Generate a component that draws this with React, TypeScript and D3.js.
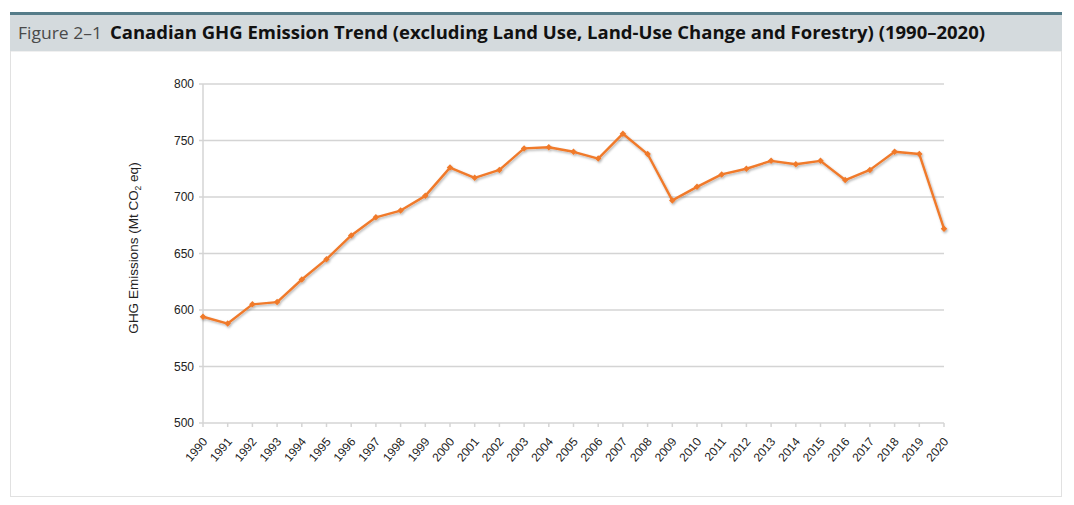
import React from "react";
import * as d3 from "d3";

const years: number[] = [
  1990, 1991, 1992, 1993, 1994, 1995, 1996, 1997, 1998, 1999, 2000, 2001, 2002, 2003, 2004, 2005,
  2006, 2007, 2008, 2009, 2010, 2011, 2012, 2013, 2014, 2015, 2016, 2017, 2018, 2019, 2020,
];
const emissions: number[] = [
  594, 588, 605, 607, 627, 645, 666, 682, 688, 701, 726, 717, 724, 743, 744, 740,
  734, 756, 738, 697, 709, 720, 725, 732, 729, 732, 715, 724, 740, 738, 672,
];
const yTicks: number[] = [500, 550, 600, 650, 700, 750, 800];

const W = 1074;
const H = 505;

export default function App() {
  const x = d3.scaleLinear().domain([1990, 2020]).range([203, 944]);
  const y = d3.scaleLinear().domain([500, 800]).range([423, 84]);
  const line = d3
    .line<number>()
    .x((_, i) => x(years[i]))
    .y((d) => y(d));
  const font = "'Liberation Sans', Arial, sans-serif";
  return (
    <svg
      width={W}
      height={H}
      style={{ position: "absolute", left: 0, top: 0, background: "#fff" }}
    >
      <defs>
        <filter id="sh" x="-50%" y="-50%" width="200%" height="200%">
          <feDropShadow dx="1" dy="1.5" stdDeviation="1" floodColor="#000" floodOpacity="0.3" />
        </filter>
      </defs>
      {/* frame */}
      <rect x={10.5} y={51} width={1051} height={445.5} fill="#fff" stroke="#e1e1e1" strokeWidth={1} />
      <rect x={10} y={14} width={1052} height={37} fill="#d4dadd" />
      <rect x={10} y={12} width={1052} height={3} fill="#557c89" />
      <text
        x={18}
        y={39}
        fontFamily="'Open Sans', 'Noto Sans', sans-serif"
        fontSize={17}
        fill="#4a4a4a"
        textLength={84}
        lengthAdjust="spacingAndGlyphs"
      >
        Figure 2–1
      </text>
      <text
        x={110}
        y={39}
        fontFamily="'Open Sans', 'Noto Sans', sans-serif"
        fontSize={17}
        fontWeight={700}
        fill="#111"
        textLength={875}
        lengthAdjust="spacingAndGlyphs"
      >
        Canadian GHG Emission Trend (excluding Land Use, Land-Use Change and Forestry) (1990–2020)
      </text>

      {/* gridlines */}
      {yTicks.map((t) => (
        <g key={t}>
          <line x1={199} x2={944} y1={y(t)} y2={y(t)} stroke="#d4d4d4" strokeWidth={1.5} />
          <text
            x={194}
            y={y(t)}
            dy="0.35em"
            textAnchor="end"
            fontFamily={font}
            fontSize={12}
            fill="#222"
          >
            {t}
          </text>
        </g>
      ))}
      <line x1={203} x2={203} y1={84} y2={423} stroke="#d4d4d4" strokeWidth={1.5} />
      {years.map((yr) => (
        <g key={yr}>
          <line x1={x(yr)} x2={x(yr)} y1={423} y2={427} stroke="#d4d4d4" strokeWidth={1.5} />
          <text
            transform={`translate(${x(yr) + 5},${442}) rotate(-50)`}
            textAnchor="end"
            fontFamily={font}
            fontSize={12}
            fill="#222"
          >
            {yr}
          </text>
        </g>
      ))}
      <text
        transform={`translate(138,248) rotate(-90)`}
        textAnchor="middle"
        fontFamily={font}
        fontSize={13.5}
        fill="#222"
      >
        GHG Emissions (Mt CO
        <tspan fontSize={8.5} dy={3}>2</tspan>
        <tspan dy={-3}> eq)</tspan>
      </text>

      <g filter="url(#sh)">
        <path d={line(emissions) || ""} fill="none" stroke="#f07a2c" strokeWidth={2.4} strokeLinejoin="round" />
        {emissions.map((v, i) => (
          <rect
            key={i}
            x={x(years[i]) - 2.3}
            y={y(v) - 2.3}
            width={4.6}
            height={4.6}
            transform={`rotate(45 ${x(years[i])} ${y(v)})`}
            fill="#f07a2c"
          />
        ))}
      </g>
    </svg>
  );
}
